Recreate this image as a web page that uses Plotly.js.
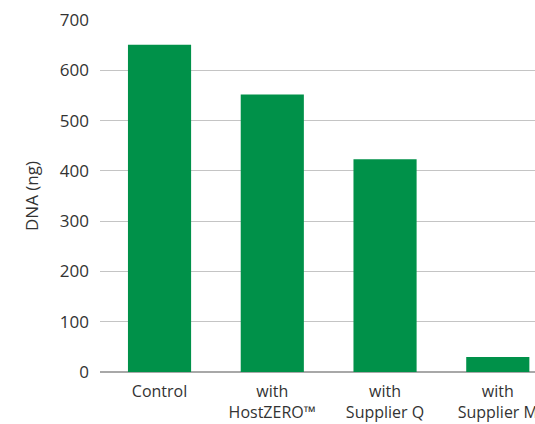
<!DOCTYPE html>
<html>
<head>
<meta charset="utf-8">
<script src="https://cdn.plot.ly/plotly-3.0.1.min.js"></script>
<style>html,body{margin:0;padding:0;background:#fff;overflow:hidden}#chart{width:535px;height:424px}</style>
</head>
<body>
<div id="chart"></div>
<script>
const categories = ["Control", "with<br>HostZERO™", "with<br>Supplier Q", "with<br>Supplier M"];
const dnaValues = [651, 552, 423, 30];
const yTickVals = [0, 100, 200, 300, 400, 500, 600, 700];

const trace = {
  type: "bar",
  x: [0, 1, 2, 3],
  y: dnaValues,
  marker: {color: "#009149"},
  hoverinfo: "none"
};

const layout = {
  width: 535,
  height: 424,
  margin: {l: 100, r: 0, t: 20, b: 52},
  paper_bgcolor: "#fff",
  plot_bgcolor: "#fff",
  showlegend: false,
  bargap: 0.44,
  font: {family: "'Open Sans', sans-serif", size: 16, color: "#333"},
  xaxis: {
    range: [-0.528, 3.33],
    tickvals: [0, 1, 2, 3],
    ticktext: categories,
    showgrid: false,
    zeroline: false,
    showline: false,
    ticks: "",
    tickfont: {size: 16, color: "#333"},
    ticklabelstandoff: 8,
    ticklabeloverflow: "allow"
  },
  yaxis: {
    range: [0, 700],
    tickvals: yTickVals,
    showgrid: true,
    gridcolor: "#c4c4c4",
    gridwidth: 1,
    zeroline: true,
    zerolinecolor: "#a8a8a8",
    zerolinewidth: 1.5,
    ticks: "",
    ticklabelstandoff: 10,
    tickfont: {size: 17, color: "#333"},
    title: {text: "DNA (ng)", font: {size: 17, color: "#333"}, standoff: 16}
  }
};

Plotly.newPlot("chart", [trace], layout, {displayModeBar: false, staticPlot: true});
</script>
</body>
</html>
